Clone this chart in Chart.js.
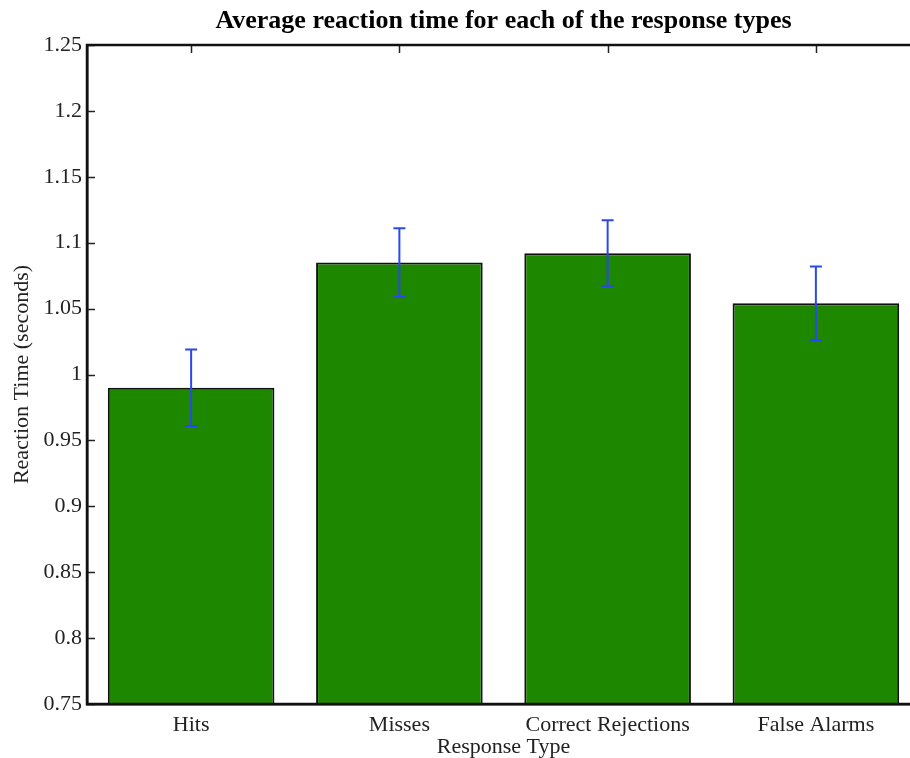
<!DOCTYPE html>
<html>
<head>
<meta charset="utf-8">
<script src="https://cdn.jsdelivr.net/npm/chart.js@4/dist/chart.umd.min.js"></script>
<style>
  html, body { margin: 0; padding: 0; background: #fff; overflow: hidden; }
  #wrap { width: 910px; height: 758px; overflow: hidden; position: relative; }
  #c { display: block; }
</style>
</head>
<body>
<div id="wrap"><canvas id="c" width="930" height="758"></canvas></div>
<script>
// Response categories and their mean reaction times (seconds) with error bar half-widths
const categories = ['Hits', 'Misses', 'Correct Rejections', 'False Alarms'];
const meanRT = [0.990, 1.085, 1.092, 1.054];
const errRT = [0.029, 0.026, 0.025, 0.028];
const yTickValues = [0.75, 0.8, 0.85, 0.9, 0.95, 1, 1.05, 1.1, 1.15, 1.2, 1.25];

const SERIF = "'Liberation Serif', 'Times New Roman', serif";
const TICK_LEN = 8;

// Box frame with inward tick marks on all four sides
const framePlugin = {
  id: 'frame',
  beforeDatasetsDraw(chart) {
    const { ctx, chartArea: a, scales: { x, y } } = chart;
    ctx.save();
    ctx.strokeStyle = '#222';
    ctx.lineWidth = 1.5;
    ctx.beginPath();
    y.ticks.forEach(t => {
      const py = Math.round(y.getPixelForValue(t.value)) + 0.5;
      ctx.moveTo(a.left, py); ctx.lineTo(a.left + TICK_LEN, py);
      ctx.moveTo(a.right, py); ctx.lineTo(a.right - TICK_LEN, py);
    });
    categories.forEach((c, i) => {
      const px = Math.round(x.getPixelForValue(i)) + 0.5;
      ctx.moveTo(px, a.top); ctx.lineTo(px, a.top + TICK_LEN);
      ctx.moveTo(px, a.bottom); ctx.lineTo(px, a.bottom - TICK_LEN);
    });
    ctx.stroke();
    ctx.restore();
  },
  afterDraw(chart) {
    const { ctx, chartArea: a } = chart;
    ctx.save();
    ctx.strokeStyle = '#111';
    ctx.lineWidth = 2.5;
    ctx.strokeRect(a.left, a.top, a.right - a.left, a.bottom - a.top);
    ctx.restore();
  }
};

// Vertical error bars with caps, positioned through the chart scales
const errorBarPlugin = {
  id: 'errorBars',
  afterDatasetsDraw(chart) {
    const { ctx, scales: { y } } = chart;
    const meta = chart.getDatasetMeta(0);
    ctx.save();
    ctx.strokeStyle = '#2a48f2';
    ctx.lineWidth = 2;
    meta.data.forEach((bar, i) => {
      const top = y.getPixelForValue(meanRT[i] + errRT[i]);
      const bot = y.getPixelForValue(meanRT[i] - errRT[i]);
      const cx = bar.x;
      const cap = 6;
      ctx.beginPath();
      ctx.moveTo(cx, top); ctx.lineTo(cx, bot);
      ctx.moveTo(cx - cap, top); ctx.lineTo(cx + cap, top);
      ctx.moveTo(cx - cap, bot); ctx.lineTo(cx + cap, bot);
      ctx.stroke();
    });
    ctx.restore();
  }
};

new Chart(document.getElementById('c'), {
  type: 'bar',
  data: {
    labels: categories,
    datasets: [{
      data: meanRT,
      backgroundColor: '#1e8700',
      borderColor: '#111',
      borderWidth: 2,
      borderSkipped: false,
      barPercentage: 0.8,
      categoryPercentage: 1.0
    }]
  },
  options: {
    responsive: false,
    animation: false,
    devicePixelRatio: 1,
    layout: { padding: { left: 0, right: 10, top: 0, bottom: 0 } },
    plugins: {
      legend: { display: false },
      tooltip: { enabled: false },
      title: {
        display: true,
        fullSize: false,
        text: 'Average reaction time for each of the response types',
        color: '#000',
        font: { family: SERIF, size: 26, weight: 'bold', lineHeight: 1.2 },
        padding: { top: 6, bottom: 7.8 }
      }
    },
    scales: {
      x: {
        grid: { display: false, drawTicks: false },
        border: { display: true, color: '#111', width: 2.5 },
        ticks: {
          color: '#222',
          font: { family: SERIF, size: 22, lineHeight: 1.2 },
          padding: 8.5,
          maxRotation: 0,
          autoSkip: false
        },
        title: {
          display: true,
          text: 'Response Type',
          color: '#222',
          font: { family: SERIF, size: 22, lineHeight: 1.0 },
          padding: { top: 0, bottom: 0 }
        },
        afterFit(scale) { scale.height = 54; }
      },
      y: {
        min: 0.75,
        max: 1.25,
        afterBuildTicks(scale) { scale.ticks = yTickValues.map(v => ({ value: v })); },
        grid: { display: false, drawTicks: false },
        border: { display: true, color: '#111', width: 2.5 },
        ticks: {
          color: '#222',
          font: { family: SERIF, size: 22, lineHeight: 1.2 },
          padding: 5,
          callback: v => String(+Number(v).toFixed(2))
        },
        title: {
          display: true,
          text: 'Reaction Time (seconds)',
          color: '#222',
          font: { family: SERIF, size: 22, lineHeight: 1.2 },
          padding: { top: 9, bottom: 0 }
        },
        afterFit(scale) { scale.width = 87; }
      }
    }
  },
  plugins: [framePlugin, errorBarPlugin]
});
</script>
</body>
</html>
